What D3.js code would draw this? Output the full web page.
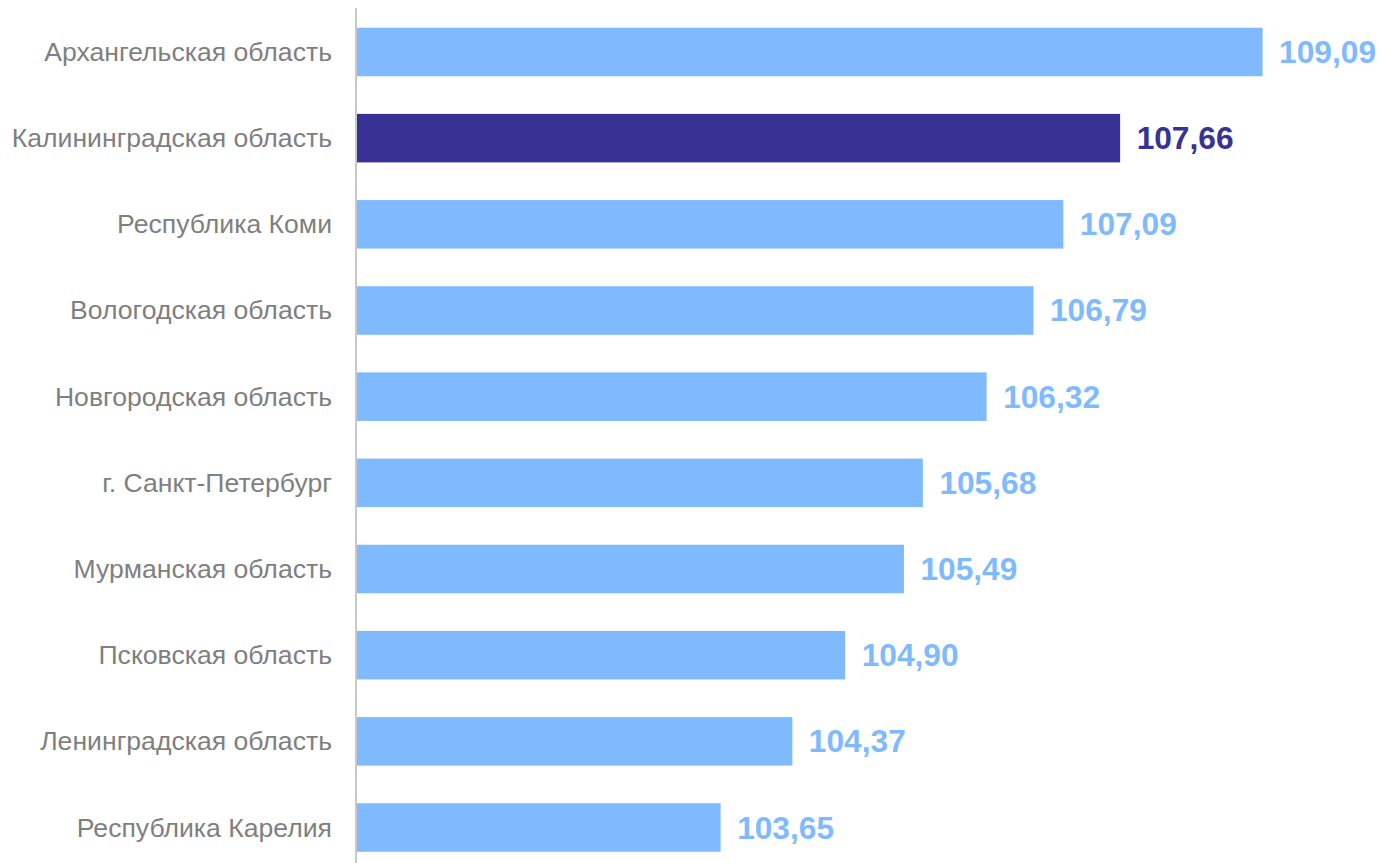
<!DOCTYPE html>
<html><head><meta charset="utf-8">
<script src="https://cdn.jsdelivr.net/npm/d3@7"></script>
<style>body{margin:0;background:#fff;}svg{display:block;}</style>
</head><body>
<svg id="c" width="1379" height="863"></svg>
<script>
const categories = ["Архангельская область","Калининградская область","Республика Коми","Вологодская область","Новгородская область","г. Санкт-Петербург","Мурманская область","Псковская область","Ленинградская область","Республика Карелия"];
const values = [109.09,107.66,107.09,106.79,106.32,105.68,105.49,104.90,104.37,103.65];
const highlight = ["Калининградская область"];

const svg = d3.select("#c");
const x = d3.scaleLinear().domain([100, 109.09]).range([357, 1262.6]);
const y = d3.scaleBand().domain(categories).range([8.9, 870.6]).paddingInner(0.437).paddingOuter(0.2185);
const light = "#7fbaff", dark = "#373294";
const fmt = v => d3.format(".2f")(v).replace(".", ",");

svg.selectAll("rect.bar").data(categories).join("rect")
  .attr("class","bar")
  .attr("x", x(100))
  .attr("y", d => y(d))
  .attr("width", (d,i) => x(values[i]) - x(100))
  .attr("height", y.bandwidth())
  .attr("fill", d => highlight.includes(d) ? dark : light);

svg.append("line").attr("x1",356).attr("x2",356).attr("y1",8).attr("y2",863)
  .attr("stroke","#c8c8c8").attr("stroke-width",2);

svg.selectAll("text.cat").data(categories).join("text")
  .attr("class","cat")
  .attr("x", 332).attr("y", d => y(d) + y.bandwidth()/2)
  .attr("text-anchor","end").attr("dominant-baseline","central")
  .attr("font-family","Liberation Sans, Arial, sans-serif").attr("font-size",26.6)
  .attr("fill","#7f7f7f").text(d => d);

svg.selectAll("text.val").data(categories).join("text")
  .attr("class","val")
  .attr("x", (d,i) => x(values[i]) + 16.5).attr("y", d => y(d) + y.bandwidth()/2)
  .attr("dominant-baseline","central")
  .attr("font-family","Liberation Sans, Arial, sans-serif").attr("font-size",31.7).attr("font-weight","bold")
  .attr("fill", d => highlight.includes(d) ? dark : light)
  .text((d,i) => fmt(values[i]));
</script>
</body></html>
